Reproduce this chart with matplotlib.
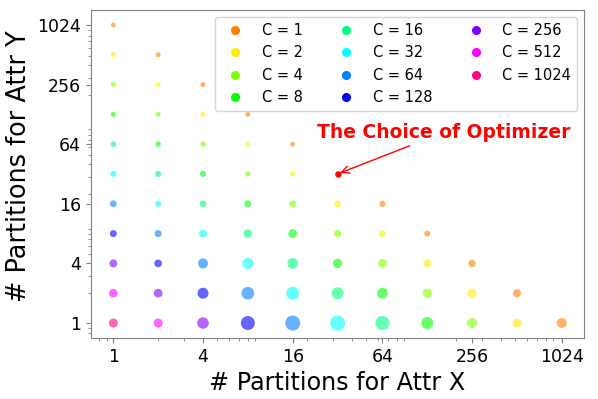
import matplotlib
matplotlib.use('Agg')
import matplotlib.pyplot as plt
from matplotlib.lines import Line2D

# partition counts (powers of two) on each axis
parts = [1, 2, 4, 8, 16, 32, 64, 128, 256, 512, 1024]
# C values shown in the legend, one colour each
c_values = [1, 2, 4, 8, 16, 32, 64, 128, 256, 512, 1024]
c_colors = ['#ff8000', '#ffee00', '#80ff00', '#00ff00', '#00ff80', '#00ffff',
            '#0080ff', '#0000ff', '#8000ff', '#ff00ff', '#ff0080']
# marker diameter (px) per row: row k is y = parts[k], entries for x = parts[0..10-k]
cost_y1 = [9, 9, 11.5, 14, 15, 15, 14, 12, 10, 9, 10]
cost_y2 = [8.7, 8.7, 11, 12.7, 13, 12, 10.7, 9.3, 9.3, 8]
cost_y4 = [8, 7.7, 10, 11, 10.7, 9.3, 8.7, 8, 7.3]
cost_y8 = [7, 7, 8, 8.7, 8.7, 7.3, 6.7, 6]
cost_y16 = [6.7, 6, 6.7, 7, 7, 6.7, 6]
cost_y32 = [6, 6, 6, 5.5, 5.5, 5]
cost_y64 = [5.5, 5.5, 5.5, 5, 5]
cost_y128 = [5, 5, 5, 5]
cost_y256 = [5, 5, 5]
cost_y512 = [5, 5]
cost_y1024 = [4.7]
cost_rows = [cost_y1, cost_y2, cost_y4, cost_y8, cost_y16, cost_y32,
             cost_y64, cost_y128, cost_y256, cost_y512, cost_y1024]
# optimizer's choice
opt_x, opt_y = 32, 32

fig = plt.figure(figsize=(5.98, 3.99), dpi=100)
ax = fig.add_axes([0.152, 0.153, 0.825, 0.822])

for j, row in enumerate(cost_rows):
    for i, d in enumerate(row):
        x = parts[i]
        y = parts[j]
        c = 1024 // (x * y)
        col = c_colors[c_values.index(c)]
        ax.scatter(x, y, s=(0.72 * d) ** 2, color=col, alpha=0.6, edgecolors='none')

ax.scatter(opt_x, opt_y, s=(0.72 * 5) ** 2, color='red', zorder=3)
ax.annotate('The Choice of Optimizer', xy=(opt_x, opt_y), xytext=(165, 84),
            ha='center', va='center', color='red', fontsize=13.5, fontweight='bold',
            arrowprops=dict(arrowstyle='->', color='red', lw=1))

ax.set_xscale('log')
ax.set_yscale('log')
ticks = [1, 4, 16, 64, 256, 1024]
ax.set_xticks(ticks)
ax.set_xticklabels([str(t) for t in ticks])
ax.set_yticks(ticks)
ax.set_yticklabels([str(t) for t in ticks])
ax.tick_params(axis='both', which='major', labelsize=12.5)
ax.tick_params(axis='both', which='both', color='gray')
for sp in ax.spines.values():
    sp.set_color('gray')

ax.set_xlabel('# Partitions for Attr X', fontsize=17.2)
ax.set_ylabel('# Partitions for Attr Y', fontsize=18.4, y=0.525)

handles = [Line2D([], [], marker='o', linestyle='', color=col, markersize=5.5,
                  label='C = %d' % c) for c, col in zip(c_values, c_colors)]
ax.legend(handles=handles, ncol=3, loc='upper right', fontsize=10.5)

fig.savefig('out.png', dpi=100)
